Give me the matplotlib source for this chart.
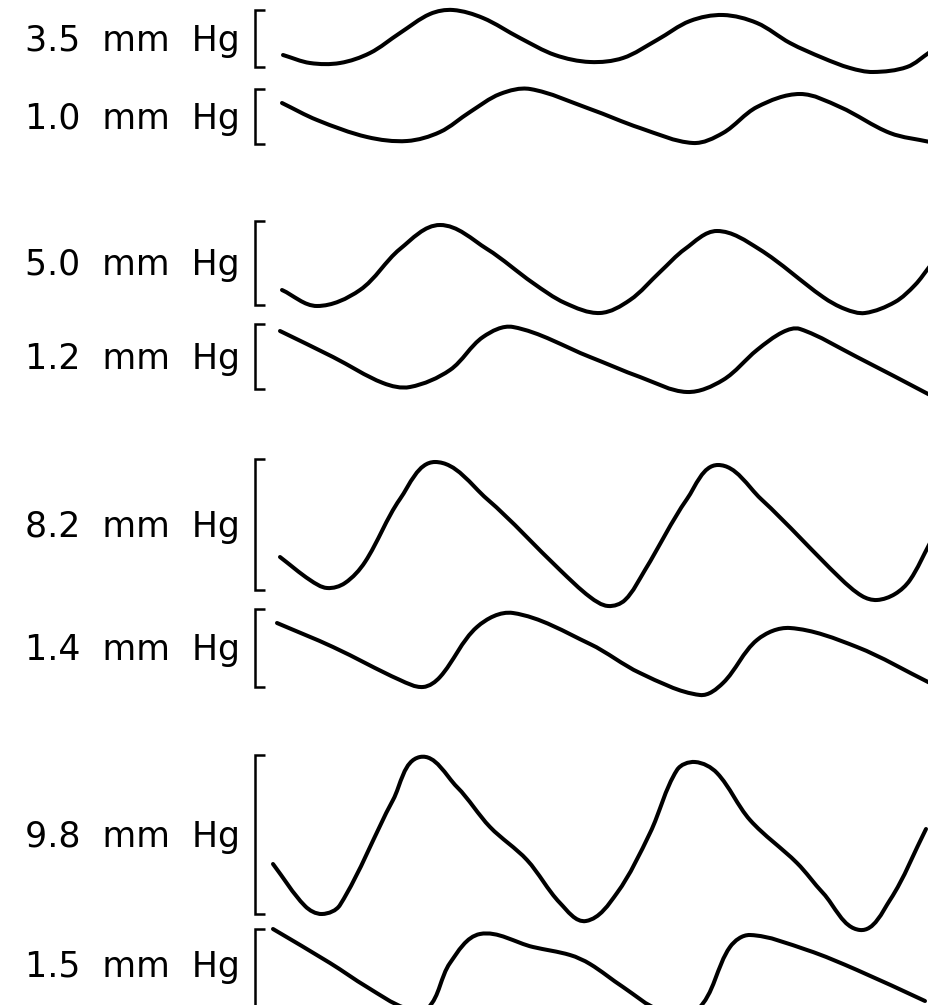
import matplotlib
matplotlib.use("Agg")
import matplotlib.pyplot as plt
from matplotlib.path import Path
from matplotlib.patches import PathPatch
import numpy as np

# Scale labels (pressure calibration for each trace)
labels = ["3.5  mm  Hg", "1.0  mm  Hg", "5.0  mm  Hg", "1.2  mm  Hg",
          "8.2  mm  Hg", "1.4  mm  Hg", "9.8  mm  Hg", "1.5  mm  Hg"]

# Calibration bracket extents (top, bottom) in page pixels
bracket_top = [10, 89, 221, 324, 459, 609, 755, 929]
bracket_bot = [67, 144, 305, 389, 590, 687, 914, 1010]

t1_x = [283, 310, 340, 370, 400, 430, 453, 483, 520, 555, 590, 623, 657, 690, 723, 757, 790, 823, 850, 873, 907, 930]
t1_y = [55, 63, 63, 53, 33, 14, 10, 18, 38, 55, 62, 58, 40, 21, 15, 23, 43, 58, 68, 72, 67, 52]

t2_x = [282, 317, 367, 407, 440, 470, 500, 530, 590, 640, 693, 723, 757, 800, 840, 890, 930]
t2_y = [103, 120, 137, 141, 132, 112, 94, 89, 109, 128, 143, 133, 107, 94, 107, 133, 142]

t3_x = [282, 317, 360, 400, 440, 487, 533, 565, 600, 630, 660, 685, 717, 759, 823, 845, 865, 895, 915, 930]
t3_y = [290, 306, 290, 249, 225, 249, 283, 303, 313, 300, 272, 249, 231, 249, 297, 309, 313, 302, 285, 266]

t4_x = [280, 333, 383, 410, 450, 483, 513, 590, 640, 687, 723, 757, 783, 800, 857, 930]
t4_y = [331, 357, 383, 387, 370, 337, 327, 357, 377, 392, 380, 350, 332, 329, 357, 395]

t5_x = [280, 310, 327, 345, 365, 400, 435, 487, 560, 590, 608, 625, 645, 687, 718, 761, 840, 862, 877, 895, 910, 930]
t5_y = [557, 580, 588, 583, 562, 499, 462, 499, 570, 597, 606, 600, 570, 499, 465, 499, 578, 596, 600, 594, 580, 543]

t6_x = [277, 333, 400, 423, 440, 477, 513, 590, 640, 700, 723, 757, 790, 857, 930]
t6_y = [623, 647, 680, 687, 677, 627, 613, 644, 673, 695, 683, 640, 628, 647, 683]

t7_x = [273, 305, 322, 340, 393, 420, 457, 490, 527, 560, 586, 617, 650, 677, 695, 717, 750, 797, 823, 860, 890, 926]
t7_y = [864, 906, 914, 905, 800, 757, 787, 827, 860, 903, 921, 893, 833, 770, 762, 773, 820, 863, 893, 930, 900, 829]

t8_x = [273, 330, 367, 405, 428, 450, 480, 533, 570, 590, 623, 660, 697, 730, 750, 807, 857, 925]
t8_y = [929, 963, 987, 1008, 1008, 963, 934, 947, 955, 964, 987, 1010, 1010, 947, 935, 950, 970, 1001]

traces_x = [t1_x, t2_x, t3_x, t4_x, t5_x, t6_x, t7_x, t8_x]
traces_y = [t1_y, t2_y, t3_y, t4_y, t5_y, t6_y, t7_y, t8_y]

W, H = 929, 1005
fig = plt.figure(figsize=(W / 100, H / 100), dpi=100)
ax = fig.add_axes([0, 0, 1, 1])
ax.set_xlim(0, W)
ax.set_ylim(H, 0)
ax.axis("off")


def smooth_path(xs, ys):
    """Smooth curve through the read points as cubic Bezier segments,
    with tangents scaled to each segment's length (no overshoot loops)."""
    P = np.column_stack([xs, ys]).astype(float)
    n = len(P)
    dirs = []
    for i in range(n):
        a = P[max(i - 1, 0)]
        b = P[min(i + 1, n - 1)]
        d = b - a
        dirs.append(d / (np.hypot(*d) or 1.0))
    verts = [P[0]]
    codes = [Path.MOVETO]
    for i in range(n - 1):
        p1, p2 = P[i], P[i + 1]
        L = np.hypot(*(p2 - p1)) / 3.0
        verts += [p1 + dirs[i] * L, p2 - dirs[i + 1] * L, p2]
        codes += [Path.CURVE4] * 3
    return Path(verts, codes)


for xs, ys in zip(traces_x, traces_y):
    patch = PathPatch(smooth_path(xs, ys), facecolor="none", edgecolor="black",
                      lw=2.9, capstyle="round", joinstyle="round")
    ax.add_patch(patch)

bx, btick = 255, 265
for lab, top, bot in zip(labels, bracket_top, bracket_bot):
    ax.plot([btick, bx, bx, btick], [top, top, bot, bot], color="black",
            lw=1.8, solid_joinstyle="miter", solid_capstyle="butt")
    yc = (top + min(bot, 1000)) / 2 + 2
    ax.text(240, yc, lab, ha="right", va="center", fontsize=25,
            family=["DejaVu Sans"], color="black")

fig.savefig("out.png", dpi=100, facecolor="white")
